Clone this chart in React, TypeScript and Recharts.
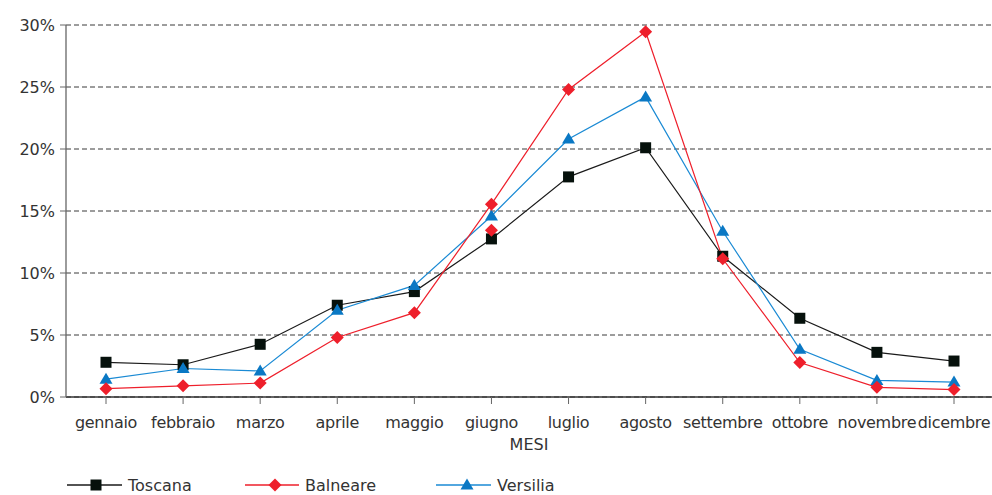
import React from 'react';
import { LineChart, Line, XAxis, YAxis, CartesianGrid, Legend } from 'recharts';

const months = ['gennaio', 'febbraio', 'marzo', 'aprile', 'maggio', 'giugno', 'luglio', 'agosto', 'settembre', 'ottobre', 'novembre', 'dicembre'];
const toscana = [2.8, 2.6, 4.25, 7.4, 8.5, 12.75, 17.75, 20.1, 11.35, 6.35, 3.6, 2.9];
const balneare = [0.67, 0.9, 1.12, 4.8, 6.8, 15.55, 24.8, 29.45, 11.15, 2.78, 0.78, 0.6];
const versilia = [1.44, 2.3, 2.1, 7.0, 9.0, 14.6, 20.8, 24.2, 13.37, 3.85, 1.34, 1.2];
const balneareExtra = [null, null, null, null, null, 13.45, null, null, null, null, null, null];
const yTicks = [0, 5, 10, 15, 20, 25, 30];

const data = months.map((m, i) => ({
  month: m,
  toscana: toscana[i],
  balneare: balneare[i],
  versilia: versilia[i],
  balneareExtra: balneareExtra[i],
}));

const FONT = '"DejaVu Sans", sans-serif';
const C_TOS = '#1a1a1a';
const C_TOS_M = '#06110c';
const C_BAL = '#ee1f2b';
const C_VER = '#1a8ad4';
const C_VER_M = '#0a78c4';

const SquareDot = (props: any) => {
  const { cx, cy, value, index } = props;
  if (cx == null || cy == null || value == null) return <g key={'s' + index} />;
  return <rect key={'s' + index} x={cx - 5.5} y={cy - 5.5} width={11} height={11} fill={C_TOS_M} />;
};

const DiamondDot = (props: any) => {
  const { cx, cy, value, index, dataKey } = props;
  if (cx == null || cy == null || value == null) return <g key={dataKey + index} />;
  const r = 6.5;
  return (
    <polygon key={dataKey + index} points={`${cx},${cy - r} ${cx + r},${cy} ${cx},${cy + r} ${cx - r},${cy}`} fill={C_BAL} />
  );
};

const TriangleDot = (props: any) => {
  const { cx, cy, value, index } = props;
  if (cx == null || cy == null || value == null) return <g key={'t' + index} />;
  return (
    <polygon key={'t' + index} points={`${cx},${cy - 6.5} ${cx + 6.5},${cy + 4.5} ${cx - 6.5},${cy + 4.5}`} fill={C_VER_M} />
  );
};

const legendItems = [
  { name: 'Toscana', x1: 67, x2: 122, mx: 96, tx: 128, color: C_TOS, kind: 'square' },
  { name: 'Balneare', x1: 245, x2: 299, mx: 275, tx: 305, color: C_BAL, kind: 'diamond' },
  { name: 'Versilia', x1: 436, x2: 491, mx: 467, tx: 497, color: C_VER, kind: 'triangle' },
];

const LegendContent = () => (
  <svg width={992} height={20} style={{ display: 'block' }}>
    {legendItems.map((it) => (
      <g key={it.name}>
        <line x1={it.x1} x2={it.x2} y1={10} y2={10} stroke={it.color} strokeWidth={1.3} />
        {it.kind === 'square' && <rect x={it.mx - 5.5} y={4.5} width={11} height={11} fill={C_TOS_M} />}
        {it.kind === 'diamond' && (
          <polygon points={`${it.mx},${3.5} ${it.mx + 6.5},${10} ${it.mx},${16.5} ${it.mx - 6.5},${10}`} fill={C_BAL} />
        )}
        {it.kind === 'triangle' && (
          <polygon points={`${it.mx},${3.5} ${it.mx + 6.5},${14.5} ${it.mx - 6.5},${14.5}`} fill={C_VER_M} />
        )}
        <text x={it.tx} y={10} dy="0.35em" fontSize={16} fontFamily={FONT} fill="#333">
          {it.name}
        </text>
      </g>
    ))}
  </svg>
);

export default function App() {
  return (
    <div style={{ position: 'absolute', left: 0, top: 0, width: 992, height: 495, background: '#fff' }}>
      <LineChart
        width={992}
        height={495}
        data={data}
        margin={{ top: 25, right: 0, bottom: 0, left: 0 }}
        style={{ fontFamily: FONT }}
      >
        <CartesianGrid vertical={false} stroke="#3a3a3a" strokeDasharray="5 3" />
        <XAxis
          dataKey="month"
          interval={0}
          padding={{ left: 40, right: 38 }}
          height={78}
          tickSize={7}
          tickMargin={13}
          axisLine={{ stroke: '#333', strokeWidth: 1.3 }}
          tickLine={{ stroke: '#666' }}
          tick={{ fill: '#333', fontSize: 16, fontFamily: FONT, letterSpacing: -0.3 }}
          label={{ value: 'MESI', position: 'insideTop', offset: 42, fill: '#333', fontSize: 16, fontFamily: FONT }}
        />
        <YAxis
          domain={[0, 30]}
          ticks={yTicks}
          width={66}
          tickSize={6}
          tickMargin={5}
          tickFormatter={(v: number) => `${v}%`}
          axisLine={{ stroke: '#666', strokeWidth: 1.3 }}
          tickLine={{ stroke: '#666' }}
          tick={{ fill: '#333', fontSize: 16, fontFamily: FONT }}
        />
        <Legend verticalAlign="bottom" height={20} content={<LegendContent />} />
        <Line dataKey="toscana" name="Toscana" stroke={C_TOS} strokeWidth={1.2} dot={SquareDot} activeDot={false} isAnimationActive={false} />
        <Line dataKey="versilia" name="Versilia" stroke={C_VER} strokeWidth={1.2} dot={TriangleDot} activeDot={false} isAnimationActive={false} />
        <Line dataKey="balneare" name="Balneare" stroke={C_BAL} strokeWidth={1.2} dot={DiamondDot} activeDot={false} isAnimationActive={false} />
        <Line dataKey="balneareExtra" name="Balneare " stroke="none" legendType="none" dot={DiamondDot} activeDot={false} isAnimationActive={false} />
      </LineChart>
    </div>
  );
}
